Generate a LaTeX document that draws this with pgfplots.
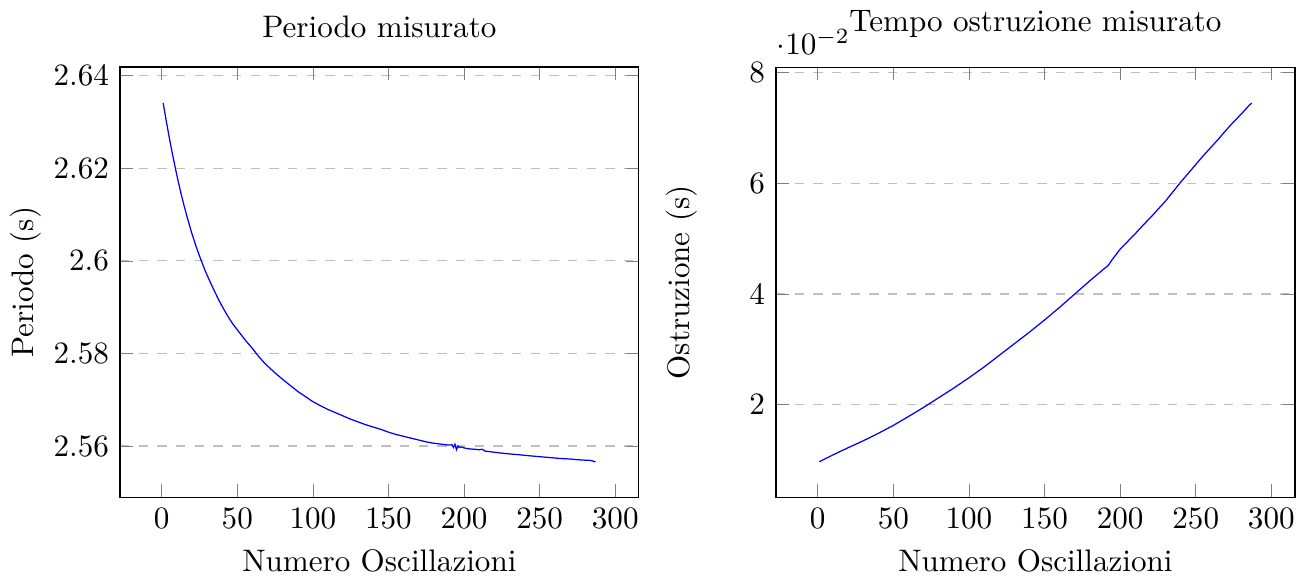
\documentclass[border=0pt]{standalone}
\usepackage{pgfplots}
\pgfplotsset{compat=1.18}
\usepackage{pgfplotstable}
\pgfplotstableread{
x y
1 2.6341
3 2.6303
5 2.6267
7 2.6233
9 2.6201
11 2.6171
13 2.6143
15 2.6117
17 2.6093
20 2.6059
23 2.6029
26 2.6002
29 2.5977
32 2.5955
35 2.5934
38 2.5914
41 2.5896
44 2.5879
47 2.5864
51 2.5847
55 2.5830
60 2.5811
64 2.5794
67 2.5783
70 2.5773
75 2.5758
80 2.5744
85 2.5731
90 2.5718
95 2.5707
100 2.5696
105 2.5687
110 2.5679
115 2.5672
120 2.5665
125 2.5658
130 2.5652
135 2.5646
140 2.5641
145 2.5636
150 2.5630
155 2.5625
160 2.5621
165 2.5617
170 2.5613
175 2.5609
180 2.5606
185 2.5604
190 2.5602
192 2.5603
193 2.5597
194 2.5604
195 2.5592
196 2.5600
197 2.5597
198 2.5598
200 2.5596
203 2.5594
207 2.5593
210 2.5592
212 2.5593
214 2.5589
219 2.5587
224 2.5585
230 2.5583
237 2.5581
243 2.5579
250 2.5577
257 2.5575
264 2.5573
270 2.5572
277 2.5570
283 2.5569
285 2.5568
286 2.5566
287 2.5567
}\periodo
\pgfplotstableread{
x y
1 0.00967
10 0.01090
20 0.01220
30 0.01345
40 0.01480
50 0.01625
60 0.01785
70 0.01950
80 0.02125
90 0.02300
100 0.02485
110 0.02680
120 0.02890
130 0.03100
140 0.03310
150 0.03530
160 0.03760
170 0.04000
180 0.04240
190 0.04470
192 0.04513
195 0.04630
198 0.04740
200 0.04810
205 0.04950
210 0.05090
215 0.05240
220 0.05380
225 0.05530
230 0.05680
235 0.05850
240 0.06020
245 0.06180
250 0.06340
255 0.06500
260 0.06650
265 0.06800
270 0.06960
275 0.07110
280 0.07250
285 0.07400
287 0.07453
}\ostruzione
\begin{document}
\begin{tikzpicture}
\pgfplotsset{
  every axis/.style={
    scale only axis,
    width=166.8pt, height=138.4pt,
    ymajorgrids,
    major grid style={dashed, gray!50},
    xtick={0,50,...,300},
    ylabel style={at={(axis description cs:-0.13,0.5)}, anchor=south},
    every y tick scale label/.style={at={(rel axis cs:0,1)}, anchor=south west, inner sep=0pt, yshift=3.9pt},
  }
}
\begin{axis}[name=ax1,
  title={Periodo misurato},
  xlabel={Numero Oscillazioni},
  ylabel={Periodo (s)},
  ytick={2.56,2.58,2.6,2.62,2.64},
  yticklabel style={/pgf/number format/precision=2},
]
\addplot[blue, no marks] table[x=x, y=y] {\periodo};
\end{axis}
\begin{axis}[at={(ax1.south east)}, xshift=44.1pt, anchor=south west,
  title={Tempo ostruzione misurato},
  xlabel={Numero Oscillazioni},
  ylabel={Ostruzione (s)},
]
\addplot[blue, no marks] table[x=x, y=y] {\ostruzione};
\end{axis}
\end{tikzpicture}
\end{document}
